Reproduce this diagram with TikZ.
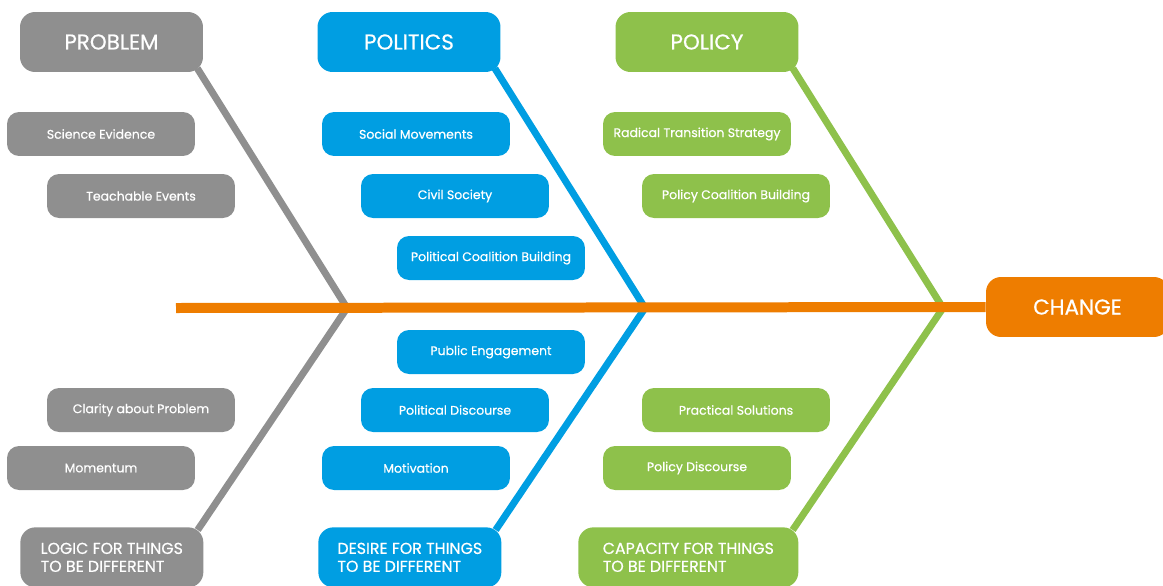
\documentclass[tikz,border=0pt]{standalone}
\usepackage{fontspec}
\setmainfont{Poppins}[FakeBold=0.6]
\usetikzlibrary{positioning,backgrounds,calc}

\definecolor{probgray}{HTML}{8F8F8F}
\definecolor{polblue}{HTML}{009EE2}
\definecolor{polgreen}{HTML}{8EC14B}
\definecolor{chgorange}{HTML}{EE7D00}

\begin{document}
\begin{tikzpicture}[
    x=0.02cm, y=-0.02cm,
    head/.style={rounded corners=0.3cm, minimum width=3.66cm, minimum height=1.2cm, text=white, font=\fontsize{12.2}{13}\selectfont},
    item/.style={rounded corners=0.24cm, minimum width=3.76cm, minimum height=0.88cm, text=white, font=\fontsize{7.1}{8.5}\selectfont},
    foot/.style={rounded corners=0.3cm, anchor=north west, minimum width=3.66cm, minimum height=1.2cm, align=left, text=white, font=\fontsize{9}{10.2}\selectfont},
    bone/.style={line width=0.14cm},
    spine/.style={line width=0.2cm, chgorange}
]
    \useasboundingbox (0,0) rectangle (1163,585);

    % heads of the three bones
    \node[head, fill=probgray] (prob) at (111.5,42) {PROBLEM};
    \node[head, fill=polblue] (politics) at (409,42) {POLITICS};
    \node[head, fill=polgreen] (policy) at (707,42) {POLICY};
    \node[head, fill=chgorange] (change) at (1077.5,307) {CHANGE};

    % problem
    \node[item, fill=probgray] (sci) at (101,134) {Science Evidence};
    \node[item, fill=probgray] (teach) at (141,196) {Teachable Events};
    \node[item, fill=probgray] (clarity) at (141,410) {Clarity about Problem};
    \node[item, fill=probgray] (moment) at (101,468) {Momentum};

    % politics
    \node[item, fill=polblue] (social) at (416,134) {Social Movements};
    \node[item, fill=polblue] (civil) at (455,196) {Civil Society};
    \node[item, fill=polblue] (polcoal) at (491,258) {Political Coalition Building};
    \node[item, fill=polblue] (pubeng) at (491,352) {Public Engagement};
    \node[item, fill=polblue] (poldisc) at (455,410) {Political Discourse};
    \node[item, fill=polblue] (motiv) at (416,468) {Motivation};

    % policy
    \node[item, fill=polgreen] (radical) at (697,134) {Radical Transition Strategy};
    \node[item, fill=polgreen] (polycoal) at (736,196) {Policy Coalition Building};
    \node[item, fill=polgreen] (practical) at (736,410) {Practical Solutions};
    \node[item, fill=polgreen] (polydisc) at (697,468) {Policy Discourse};

    % tails
    \node[foot, fill=probgray] (logic) at (20,527) {LOGIC FOR THINGS\\TO BE DIFFERENT};
    \node[foot, fill=polblue] (desire) at (318,527) {DESIRE FOR THINGS\\TO BE DIFFERENT};
    \node[foot, fill=polgreen, minimum width=4.4cm] (capacity) at (578,527) {CAPACITY FOR THINGS\\TO BE DIFFERENT};

    \coordinate (tail) at (176,308);
    \coordinate (jprob) at (347,308);
    \coordinate (jpol) at (645,308);
    \coordinate (jpoly) at (943,308);

    \begin{scope}[on background layer]
        \draw[bone, probgray] ($(prob.south east)+(-6,-4)$) -- (jprob) -- ($(logic.north east)+(-6,3)$);
        \draw[bone, polblue] ($(politics.south east)+(-6,-4)$) -- (jpol) -- ($(desire.north east)+(-6,3)$);
        \draw[bone, polgreen] ($(policy.south east)+(-6,-4)$) -- (jpoly) -- ($(capacity.north east)+(-6,3)$);
        \draw[spine] (tail) -- (change.west);
    \end{scope}
\end{tikzpicture}
\end{document}
